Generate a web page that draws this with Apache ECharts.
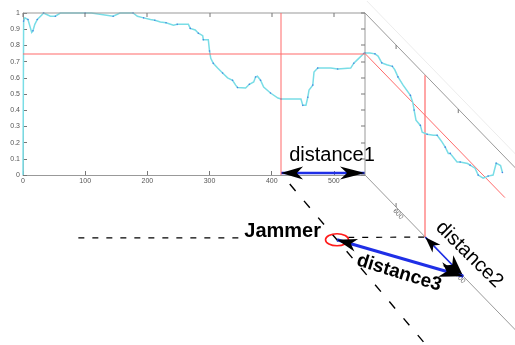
<!DOCTYPE html>
<html><head><meta charset="utf-8">
<script src="https://cdn.jsdelivr.net/npm/echarts/dist/echarts.min.js"></script>
<style>html,body{margin:0;padding:0;background:#fff}#c{width:515px;height:345px}</style>
</head><body><div id="c"></div>
<script>
// ---- data ----
const xTicks = [0, 100, 200, 300, 400, 500];
const yTicks = [0, 0.1, 0.2, 0.3, 0.4, 0.5, 0.6, 0.7, 0.8, 0.9, 1];
const panel2Ticks = [600, 700];
const panel2TickLabels = ['600', '700'];
const panel1 = [
  [0,0],[1,0.95],[3,0.97],[8,0.96],[14,0.88],[16,0.89],[19,0.93],[23,0.96],[31,0.99],[33,1.0],
  [44,0.98],[52,0.98],[60,1.0],[100,1.0],[110,1.0],[145,0.98],[156,1.0],[177,1.0],[184,0.98],
  [194,0.97],[205,0.96],[212,0.955],[221,0.945],[230,0.94],[242,0.925],[248,0.93],[266,0.93],
  [269,0.905],[277,0.895],[282,0.875],[289,0.86],[290,0.835],[298,0.835],[300,0.765],[302,0.72],
  [306,0.69],[313,0.66],[321,0.63],[329,0.6],[337,0.585],[342,0.555],[345,0.54],[358,0.537],
  [364,0.56],[371,0.574],[374,0.605],[377,0.61],[382,0.585],[387,0.543],[398,0.506],[410,0.475],
  [415,0.469],[447,0.469],[450,0.43],[455,0.43],[458,0.48],[460,0.525],[466,0.555],[468,0.636],
  [474,0.66],[495,0.66],[506,0.654],[527,0.66],[532,0.69],[540,0.72],[548,0.75],[550,0.755]
];
const panel2 = [
  [550,0.753],[558,0.785],[566,0.811],[571,0.817],[577,0.799],[585,0.819],[594,0.845],[598,0.839],
  [603,0.815],[611,0.797],[623,0.78],[627,0.75],[629,0.713],[632,0.663],[639,0.658],[642,0.628],
  [650,0.647],[660,0.68],[666,0.704],[674,0.693],[679,0.682],[684,0.663],[687,0.675],[698,0.665],
  [703,0.685],[715,0.723],[719,0.729],[727,0.742],[732,0.719],[740,0.732],[748,0.776],[756,0.814],
  [761,0.907],[768,0.92],[771,0.889]
];
const thresholdLevel = 0.75;
const cut1 = 415;          // red vertical, panel 1
const cut2 = 647;          // red vertical, panel 2
const panelEdge = 550;     // fold between the two panels
const panel2End = 775;     // end of red level line in panel 2
const frameEnd = 820;
const dist2End = 708;      // end of distance2 on panel-2 floor
const jammer = [505, -0.40];
const floorLevel = -0.388;
const dashLeft = [89, 350];
const diagDash = [[429, -0.056], [644, -1.03]];
const texts = { d1: 'distance1', d2: 'distance2', d3: 'distance3', jam: 'Jammer' };

const SHEAR = 1.03;
const BLUE = '#1f2fe6', RED = '#ff6b6b', GRAY = '#999', FONT = 'Liberation Sans, Arial, sans-serif';
const CYAN = '#79dde6', DOT = '#4a80e2';

function C(api, x, v) { const c = api.coord([x, v]); return [c[0], c[1]]; }
function P(api, x, v) {
  const c = C(api, x, v);
  if (x > panelEdge) {
    const e = C(api, panelEdge, v);
    c[1] += SHEAR * (c[0] - e[0]);
  }
  return c;
}
function head(tip, from, L, W) {
  const dx = tip[0] - from[0], dy = tip[1] - from[1], len = Math.hypot(dx, dy);
  const ux = dx / len, uy = dy / len, nx = -uy, ny = ux;
  const bx = tip[0] - ux * L, by = tip[1] - uy * L;
  return {type: 'polygon', shape: {points: [[tip[0], tip[1]], [bx + nx * W / 2, by + ny * W / 2],
    [tip[0] - ux * L * 0.72, tip[1] - uy * L * 0.72], [bx - nx * W / 2, by - ny * W / 2]]},
    style: {fill: '#000'}};
}
function line(a, b, stroke, w, dash) {
  const st = {stroke: stroke, lineWidth: w};
  if (dash) st.lineDash = dash;
  return {type: 'line', shape: {x1: a[0], y1: a[1], x2: b[0], y2: b[1]}, style: st};
}
// thin filled bar between two points on a horizontal or vertical run
function bar(a, b, color, w) {
  const x = Math.min(a[0], b[0]), y = Math.min(a[1], b[1]);
  const horiz = Math.abs(b[0] - a[0]) >= Math.abs(b[1] - a[1]);
  return {type: 'rect', shape: horiz
      ? {x: x, y: Math.round(a[1]) - w / 2, width: Math.abs(b[0] - a[0]), height: w}
      : {x: Math.round(a[0]) - w / 2, y: y, width: w, height: Math.abs(b[1] - a[1])},
    style: {fill: color}};
}

function renderCurves(params, api) {
  const ch = [];
  const pts1 = panel1.map(d => C(api, d[0], d[1]));
  ch.push({type: 'polyline', shape: {points: pts1}, style: {stroke: CYAN, lineWidth: 1.5, fill: 'none'}});
  pts1.forEach((p, i) => { if (i % 2 === 1) ch.push({type: 'circle', shape: {cx: p[0], cy: p[1], r: 0.8}, style: {fill: DOT}}); });
  // panel 2
  ch.push(line(P(api, panelEdge + 3, 1.086), P(api, frameEnd, 1.086), '#ececec', 1));
  ch.push(line(P(api, panelEdge, 1), P(api, frameEnd, 1), GRAY, 1));
  ch.push(line(P(api, panelEdge, 0), P(api, frameEnd, 0), GRAY, 1));
  panel2Ticks.forEach((t, i) => {
    const a = P(api, t, 1), b = P(api, t, 0);
    ch.push(line(a, [a[0], a[1] + 4], '#777', 1));
    ch.push(line(b, [b[0], b[1] - 4], '#777', 1));
    ch.push({type: 'text', x: b[0] + 2, y: b[1] + 7, rotation: -0.85,
      style: {text: panel2TickLabels[i], fill: '#666', font: '7px ' + FONT, align: 'center', verticalAlign: 'middle'}});
  });
  ch.push(line(P(api, panelEdge, thresholdLevel), P(api, panel2End, thresholdLevel), RED, 1));
  ch.push(bar(P(api, cut2, 1), P(api, cut2, 0), RED, 1.2));
  const pts2 = panel2.map(d => P(api, d[0], d[1]));
  ch.push({type: 'polyline', shape: {points: pts2}, style: {stroke: CYAN, lineWidth: 1.5, fill: 'none'}});
  pts2.forEach((p, i) => { if (i % 2 === 0) ch.push({type: 'circle', shape: {cx: p[0], cy: p[1], r: 0.8}, style: {fill: DOT}}); });
  return {type: 'group', children: ch};
}

function renderAnnot(params, api) {
  const ch = [];
  const J = C(api, jammer[0], jammer[1]);
  const F = P(api, cut2, 0);
  const E = P(api, dist2End, 0);
  ch.push(line(C(api, dashLeft[0], floorLevel), C(api, dashLeft[1], floorLevel), '#000', 1.2, [6, 8]));
  ch.push(line(C(api, jammer[0] + 18, floorLevel + 0.003), F, '#000', 1.2, [6, 8]));
  ch.push(line(C(api, diagDash[0][0], diagDash[0][1]), C(api, diagDash[1][0], diagDash[1][1]), '#000', 1.4, [9, 13]));
  ch.push({type: 'ellipse', shape: {cx: J[0], cy: J[1], rx: 11.5, ry: 6}, style: {stroke: '#ff1a1a', lineWidth: 1.6, fill: 'none'}});
  const A1 = C(api, cut1, 0.012), B1 = C(api, panelEdge, 0.012);
  ch.push(line(A1, B1, BLUE, 2.5));
  ch.push(head(A1, B1, 22, 13));
  ch.push(head(B1, A1, 25, 13));
  ch.push(line(F, E, BLUE, 1.6));
  ch.push(head(F, E, 16, 11));
  ch.push(head(E, F, 22, 15));
  ch.push(line(J, E, BLUE, 3));
  ch.push(head(J, E, 20, 13));
  ch.push(head(E, J, 24, 15));
  const m1 = [(A1[0] + B1[0]) / 2, A1[1]];
  ch.push({type: 'text', x: m1[0] + 9, y: m1[1] - 18,
    style: {text: texts.d1, fill: '#000', font: '20px ' + FONT, align: 'center', verticalAlign: 'middle'}});
  ch.push({type: 'text', x: J[0] - 16, y: J[1] - 8,
    style: {text: texts.jam, fill: '#000', font: 'bold 20px ' + FONT, align: 'right', verticalAlign: 'middle'}});
  const m2 = [(F[0] + E[0]) / 2, (F[1] + E[1]) / 2];
  ch.push({type: 'text', x: m2[0] + 25, y: m2[1] - 2, rotation: -0.78,
    style: {text: texts.d2, fill: '#000', font: '20px ' + FONT, align: 'center', verticalAlign: 'middle'}});
  const m3 = [(J[0] + E[0]) / 2, (J[1] + E[1]) / 2];
  ch.push({type: 'text', x: m3[0] - 1, y: m3[1] + 15, rotation: -0.3,
    style: {text: texts.d3, fill: '#000', font: 'bold 19px ' + FONT, align: 'center', verticalAlign: 'middle'}});
  return {type: 'group', children: ch};
}

function renderFrame(params, api) {
  const ch = [];
  ch.push(bar(C(api, 0, 1), C(api, panelEdge, 1), GRAY, 1));
  ch.push(bar(C(api, panelEdge, 1), C(api, panelEdge, 0), GRAY, 1));
  xTicks.forEach(t => { const a = C(api, t, 1); ch.push(bar(a, [a[0], a[1] + 4], '#777', 1)); });
  yTicks.forEach(t => { const a = C(api, panelEdge, t); ch.push(bar([a[0] - 4, a[1]], a, '#777', 1)); });
  ch.push(bar(C(api, 0, thresholdLevel), C(api, panelEdge, thresholdLevel), RED, 1));
  ch.push(bar(C(api, cut1, 1), C(api, cut1, 0), RED, 1));
  return {type: 'group', children: ch};
}

const chart = echarts.init(document.getElementById('c'));
chart.setOption({
  animation: false,
  backgroundColor: '#fff',
  grid: {left: 23, top: 13, width: 342, height: 162, show: false},
  xAxis: {type: 'value', min: 0, max: 550,
    axisLine: {onZero: false, lineStyle: {color: GRAY}},
    axisTick: {inside: true, length: 4, customValues: xTicks, lineStyle: {color: '#777'}},
    axisLabel: {customValues: xTicks, color: '#555', fontSize: 7, margin: 3},
    splitLine: {show: false}},
  yAxis: {type: 'value', min: 0, max: 1, interval: 0.1,
    axisLine: {show: true, onZero: false, lineStyle: {color: GRAY}},
    axisTick: {show: true, inside: true, length: 4, lineStyle: {color: '#777'}},
    axisLabel: {color: '#555', fontSize: 7, margin: 3},
    splitLine: {show: false}},
  series: [
    {type: 'custom', coordinateSystem: 'cartesian2d', clip: false, silent: true,
      data: [[0, 0]], renderItem: renderCurves, z: 2},
    {type: 'custom', coordinateSystem: 'cartesian2d', clip: false, silent: true,
      data: [[0, 0]], renderItem: renderAnnot, z: 5},
    {type: 'custom', coordinateSystem: 'cartesian2d', clip: false, silent: true,
      data: [[0, 0]], renderItem: renderFrame, z: 20}
  ]
});
</script></body></html>
